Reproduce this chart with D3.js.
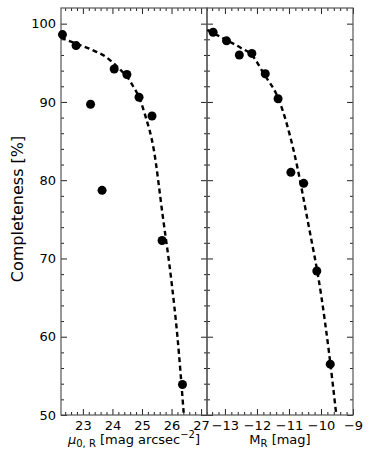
<!DOCTYPE html>
<html>
<head>
<meta charset="utf-8">
<script src="https://cdn.jsdelivr.net/npm/d3@7"></script>
<style>
  body { margin: 0; background: #fff; }
  svg { display: block; font-family: "DejaVu Sans", sans-serif; }
</style>
</head>
<body>
<div id="chart"></div>
<script>
// surface brightness panel (left)
var muBins = [22.31, 22.77, 23.26, 23.65, 24.06, 24.49, 24.90, 25.34, 25.68, 26.37];
var muCompl = [98.6, 97.2, 89.7, 78.7, 94.2, 93.5, 90.6, 88.2, 72.3, 53.9];
var muFitX = [22.26, 22.8, 23.4, 23.8, 24.05, 24.3, 24.5, 24.7, 24.9, 25.1, 25.4, 25.7, 26.0, 26.2, 26.41];
var muFitY = [98.2, 97.4, 96.5, 95.7, 94.9, 94.0, 93.2, 92.0, 90.6, 88.4, 83.9, 75.5, 67.0, 60.0, 50.3];

// absolute magnitude panel (right)
var magBins = [-13.37, -12.95, -12.55, -12.16, -11.74, -11.34, -10.94, -10.54, -10.13, -9.71];
var magCompl = [98.9, 97.8, 96.0, 96.2, 93.6, 90.4, 81.0, 79.6, 68.4, 56.5];
var magFitX = [-13.55, -13.0, -12.5, -12.16, -11.8, -11.28, -10.86, -10.4, -9.99, -9.75, -9.53];
var magFitY = [99.2, 98.0, 96.9, 96.0, 93.7, 89.9, 83.9, 74.5, 65.2, 58.0, 50.3];

var muTicks = [23, 24, 25, 26, 27];
var magTicks = [-13, -12, -11, -10, -9];
var yTicks = [50, 60, 70, 80, 90, 100];

var W = 371, H = 463;
var plotTop = 8, plotBottom = 415;
var leftX0 = 61, midX = 207, rightX1 = 353;

var svg = d3.select("#chart").append("svg").attr("width", W).attr("height", H);

var y = d3.scaleLinear().domain([50, 102]).range([plotBottom, plotTop]);
var xMu = d3.scaleLinear().domain([22.26, 27.2]).range([leftX0, midX]);
var xMag = d3.scaleLinear().domain([-13.56, -9]).range([midX, rightX1]);

function minorTicks(lo, hi, step) {
    var out = [];
    for (var v = Math.ceil(lo / step) * step; v <= hi + 1e-9; v += step) {
        var r = Math.round(v * 1000) / 1000;
        if (Math.abs(r - Math.round(r)) > 1e-6) out.push(r);
    }
    return out;
}
var yMinor = [];
for (var i = 52; i < 102; i += 2) if (i % 10 != 0) yMinor.push(i);

function drawPanel(x, majors, xs, ys, fx, fy, showY) {
    var r = x.range();
    var g = svg.append("g");
    var xMinor = minorTicks(x.domain()[0], x.domain()[1], 0.2);
    var fmt = function(d) { return d < 0 ? "\u2212" + Math.abs(d) : d; };

    // bottom ticks (inward) + labels
    g.append("g").attr("transform", "translate(0," + plotBottom + ")")
        .call(d3.axisBottom(x).tickValues(majors).tickSize(-6).tickPadding(6).tickFormat(fmt));
    g.append("g").attr("transform", "translate(0," + plotBottom + ")")
        .call(d3.axisBottom(x).tickValues(xMinor).tickSize(-3).tickFormat(""));
    // top ticks
    g.append("g").attr("transform", "translate(0," + plotTop + ")")
        .call(d3.axisTop(x).tickValues(majors).tickSize(-6).tickFormat(""));
    g.append("g").attr("transform", "translate(0," + plotTop + ")")
        .call(d3.axisTop(x).tickValues(xMinor).tickSize(-3).tickFormat(""));
    // left ticks
    g.append("g").attr("transform", "translate(" + r[0] + ",0)")
        .call(d3.axisLeft(y).tickValues(yTicks).tickSize(-6).tickPadding(5).tickFormat(showY ? d3.format("d") : ""));
    g.append("g").attr("transform", "translate(" + r[0] + ",0)")
        .call(d3.axisLeft(y).tickValues(yMinor).tickSize(-3).tickFormat(""));
    // right ticks
    g.append("g").attr("transform", "translate(" + r[1] + ",0)")
        .call(d3.axisRight(y).tickValues(yTicks).tickSize(-6).tickFormat(""));
    g.append("g").attr("transform", "translate(" + r[1] + ",0)")
        .call(d3.axisRight(y).tickValues(yMinor).tickSize(-3).tickFormat(""));

    g.selectAll(".domain").remove();
    g.selectAll(".tick line").attr("stroke", "#222").attr("stroke-width", 1);
    g.selectAll(".tick text").attr("font-size", 13).attr("fill", "#000")
        .attr("font-family", "DejaVu Sans");

    // frame
    g.append("rect").attr("x", r[0]).attr("y", plotTop)
        .attr("width", r[1] - r[0]).attr("height", plotBottom - plotTop)
        .attr("fill", "none").attr("stroke", "#555").attr("stroke-width", 1.2);

    // fitted curve
    var fit = fx.map(function(d, i) { return [d, fy[i]]; });
    var line = d3.line().x(function(d) { return x(d[0]); }).y(function(d) { return y(d[1]); })
        .curve(d3.curveMonotoneX);
    g.append("path").datum(fit).attr("d", line)
        .attr("fill", "none").attr("stroke", "#000").attr("stroke-width", 2.4)
        .attr("stroke-dasharray", "5,3.5");

    // data points
    g.selectAll("circle.pt").data(xs.map(function(d, i) { return [d, ys[i]]; }))
        .enter().append("circle").attr("class", "pt")
        .attr("cx", function(d) { return x(d[0]); })
        .attr("cy", function(d) { return y(d[1]); })
        .attr("r", 4.5).attr("fill", "#000");
}

drawPanel(xMu, muTicks, muBins, muCompl, muFitX, muFitY, true);
drawPanel(xMag, magTicks, magBins, magCompl, magFitX, magFitY, false);

// axis labels
svg.append("text").attr("transform", "translate(23,209) rotate(-90)")
    .attr("text-anchor", "middle").attr("font-size", 16).text("Completeness [%]");

var xl1 = svg.append("text").attr("x", (leftX0 + midX) / 2).attr("y", 444)
    .attr("text-anchor", "middle").attr("font-size", 13);
xl1.append("tspan").attr("font-style", "italic").text("\u03bc");
xl1.append("tspan").attr("font-size", 10).attr("dy", 3).text("0, R");
xl1.append("tspan").attr("dy", -3).text(" [mag arcsec");
xl1.append("tspan").attr("font-size", 10).attr("dy", -6).text("\u22122");
xl1.append("tspan").attr("dy", 6).text("]");

var xl2 = svg.append("text").attr("x", (midX + rightX1) / 2).attr("y", 444)
    .attr("text-anchor", "middle").attr("font-size", 13);
xl2.append("tspan").text("M");
xl2.append("tspan").attr("font-size", 10).attr("dy", 3).text("R");
xl2.append("tspan").attr("dy", -3).text(" [mag]");
</script>
</body>
</html>
